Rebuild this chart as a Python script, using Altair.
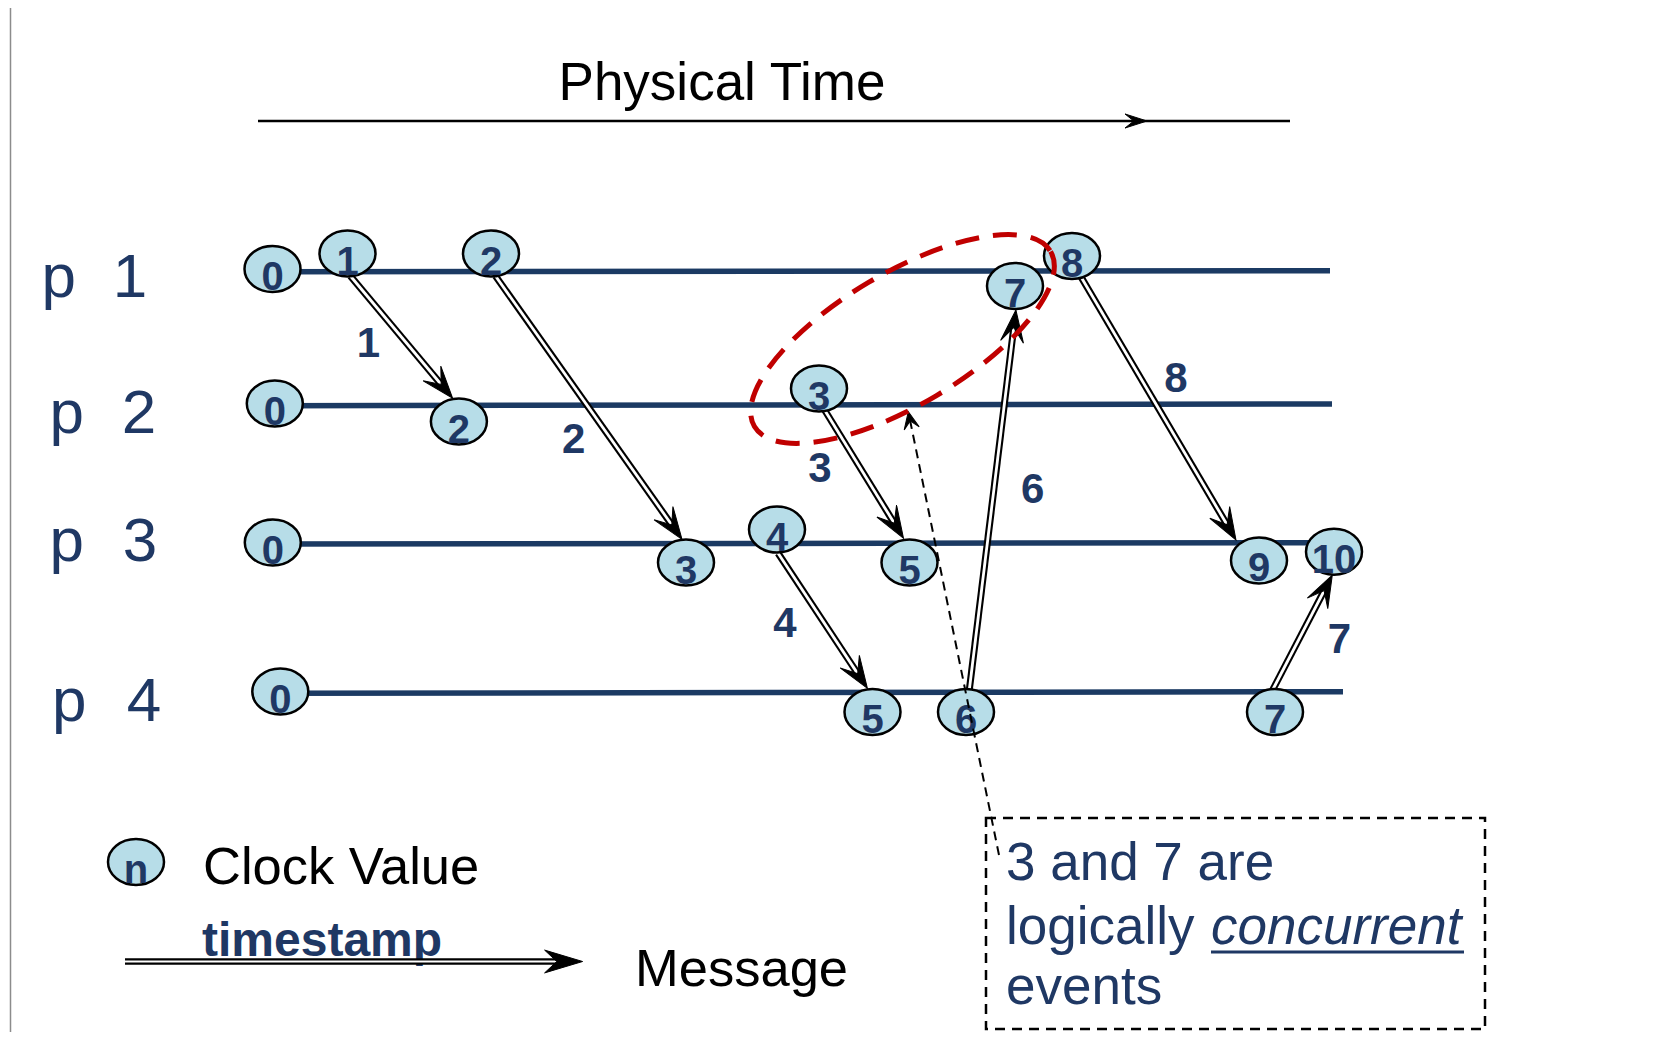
import math
import altair as alt
import pandas as pd

# ---------------- data (reference pixel coordinates) ----------------
NAVY = "#1f3864"
LINE = "#1b3a63"
FILL = "#b7dde8"
RED = "#c00000"

# process time lines
proc_p = ["p", "p", "p", "p"]
proc_num = ["1", "2", "3", "4"]
proc_p_x = [41.5, 49.5, 49.5, 52]
proc_num_x = [130, 139, 140, 144]
proc_label_y = [297, 433, 561, 721]
line_x1 = [273, 275, 273, 280]
line_x2 = [1330, 1332, 1310, 1343]
line_y1 = [271.7, 405.7, 544, 693.3]
line_y2 = [270.7, 404.0, 542.7, 691.7]

# events (clock values)
ev_value = ["0", "1", "2", "7", "8",
            "0", "2", "3",
            "0", "3", "4", "5", "9", "10",
            "0", "5", "6", "7"]
ev_x = [272.5, 347.5, 491.0, 1015.0, 1072.0,
        274.8, 458.9, 819.0,
        272.8, 686.0, 777.0, 909.5, 1259.0, 1334.0,
        280.3, 872.5, 966.0, 1275.0]
ev_y = [269.0, 253.5, 253.5, 286.0, 256.0,
        403.5, 421.5, 388.5,
        542.5, 562.5, 529.5, 562.5, 560.4, 551.8,
        691.5, 712.0, 712.0, 712.0]

# messages
msg_label = ["1", "2", "3", "4", "6", "8", "7"]
msg_x1 = [350.4, 495.5, 824.6, 778.1, 969.3, 1080.5, 1272.6]
msg_y1 = [276.0, 276.0, 410.0, 553.3, 690.0, 276.0, 690.0]
msg_x2 = [452.5, 682.0, 903.5, 867.4, 1015.9, 1236.0, 1332.3]
msg_y2 = [398.0, 539.3, 538.3, 688.3, 310.0, 540.0, 575.0]
msg_lab_x = [368.3, 573.7, 819.8, 784.8, 1032.6, 1176.0, 1339.3]
msg_lab_y = [341.7, 438.3, 466.7, 621.7, 488.3, 376.7, 638.3]

# ---------------- helpers ----------------
K = 0.5523


def ellipse_path(ry):
    return (f"M1,0C1,{K*ry:.4f} {K:.4f},{ry:.4f} 0,{ry:.4f}"
            f"C{-K:.4f},{ry:.4f} -1,{K*ry:.4f} -1,0"
            f"C-1,{-K*ry:.4f} {-K:.4f},{-ry:.4f} 0,{-ry:.4f}"
            f"C{K:.4f},{-ry:.4f} 1,{-K*ry:.4f} 1,0Z")


CIRCLE_SHAPE = ellipse_path(46 / 56)
ARROW_SHAPE = "M0,0L-1,-0.36L-0.55,0L-1,0.36Z"

xs = alt.Scale(domain=[8, 1650], nice=False, zero=False)
ys = alt.Scale(domain=[8, 1032], nice=False, zero=False, reverse=True)


def X(f="x"):
    return alt.X(f"{f}:Q", scale=xs, axis=None)


def Y(f="y"):
    return alt.Y(f"{f}:Q", scale=ys, axis=None)


def arrows(x1, y1, x2, y2, length, shaft_frac=0.55):
    rows = []
    for a, b, c, d in zip(x1, y1, x2, y2):
        dx, dy = c - a, d - b
        n = math.hypot(dx, dy)
        ux, uy = dx / n, dy / n
        ang = math.degrees(math.atan2(dy, dx)) % 360
        rows.append(dict(x=a, y=b, x2=c - ux * length * shaft_frac,
                         y2=d - uy * length * shaft_frac,
                         tx=c, ty=d, angle=ang, size=4 * length * length))
    return pd.DataFrame(rows)


def head(df, shape=ARROW_SHAPE):
    return (alt.Chart(df).mark_point(shape=shape, filled=True, fill="black",
                                     stroke="black", strokeWidth=1, opacity=1)
            .encode(x=X("tx"), y=Y("ty"), angle=alt.Angle("angle:Q", scale=None),
                    size=alt.Size("size:Q", scale=None)))


# ---------------- layers ----------------
layers = []

# left gray border line
border = pd.DataFrame({"x": [10.5], "y": [8], "y2": [1032]})
layers.append(alt.Chart(border).mark_rule(color="#8c8c8c", strokeWidth=1.5)
              .encode(x=X(), y=Y(), y2="y2:Q"))

# Physical Time
pt = pd.DataFrame({"x": [722], "y": [100], "t": ["Physical Time"]})
layers.append(alt.Chart(pt).mark_text(font="Liberation Sans", fontSize=53,
                                      align="center", baseline="alphabetic",
                                      color="black")
              .encode(x=X(), y=Y(), text="t:N"))
ptl = pd.DataFrame({"x": [258], "y": [121], "x2": [1290], "y2": [121]})
layers.append(alt.Chart(ptl).mark_rule(color="black", strokeWidth=2.5)
              .encode(x=X(), y=Y(), x2="x2:Q", y2="y2:Q"))
layers.append(head(arrows([1100], [121], [1147], [121], 22), "M0,0L-1,-0.32L-0.6,0L-1,0.32Z"))

# process lines
pl = pd.DataFrame({"x": line_x1, "y": line_y1, "x2": line_x2, "y2": line_y2})
layers.append(alt.Chart(pl).mark_rule(color=LINE, strokeWidth=5.5)
              .encode(x=X(), y=Y(), x2="x2:Q", y2="y2:Q"))

# process labels
plab_p = pd.DataFrame({"x": proc_p_x, "y": proc_label_y, "t": proc_p})
layers.append(alt.Chart(plab_p).mark_text(font="Liberation Sans", fontSize=62,
                                          align="left", baseline="alphabetic", color=NAVY)
              .encode(x=X(), y=Y(), text="t:N"))
plab_n = pd.DataFrame({"x": proc_num_x, "y": proc_label_y, "t": proc_num})
layers.append(alt.Chart(plab_n).mark_text(font="Liberation Sans", fontSize=62,
                                          align="center", baseline="alphabetic", color=NAVY)
              .encode(x=X(), y=Y(), text="t:N"))

# messages: double line shafts + arrowheads
md = arrows(msg_x1, msg_y1, msg_x2, msg_y2, 32)
layers.append(alt.Chart(md).mark_rule(color="black", strokeWidth=7, strokeCap="butt")
              .encode(x=X(), y=Y(), x2="x2:Q", y2="y2:Q"))
layers.append(alt.Chart(md).mark_rule(color="white", strokeWidth=2.8, strokeCap="butt")
              .encode(x=X(), y=Y(), x2="x2:Q", y2="y2:Q"))
layers.append(head(md))

# message labels
ml = pd.DataFrame({"x": msg_lab_x, "y": msg_lab_y, "t": msg_label})
layers.append(alt.Chart(ml).mark_text(font="Liberation Sans", fontWeight="bold", fontSize=42,
                                      align="center", baseline="alphabetic", color=NAVY, dy=15)
              .encode(x=X(), y=Y(), text="t:N"))

# events
ev = pd.DataFrame({"x": ev_x, "y": ev_y, "t": ev_value})
leg = pd.DataFrame({"x": [136], "y": [862], "t": ["n"]})
allev = pd.concat([ev, leg], ignore_index=True)
layers.append(alt.Chart(allev).mark_point(shape=CIRCLE_SHAPE, size=56 * 56, filled=True,
                                          fill=FILL, stroke="black", strokeWidth=2.5, opacity=1)
              .encode(x=X(), y=Y()))
layers.append(alt.Chart(allev).mark_text(font="Liberation Sans", fontWeight="bold", fontSize=40,
                                         align="center", baseline="alphabetic", color=NAVY, dy=21)
              .encode(x=X(), y=Y(), text="t:N"))

# dashed pointer line + arrowhead
dl = arrows([999], [855], [908.3], [411.7], 17, shaft_frac=0.3)
layers.append(alt.Chart(dl).mark_rule(color="black", strokeWidth=2, strokeDash=[9, 6])
              .encode(x=X(), y=Y(), x2="x2:Q", y2="y2:Q"))
layers.append(head(dl, "M0,0L-1,-0.45L-0.55,0L-1,0.45Z"))

# red dashed ellipse around 3 and 7
rel = pd.DataFrame({"x": [902.5], "y": [339]})
layers.append(alt.Chart(rel).mark_point(shape=ellipse_path(66 / 172), size=344 * 344,
                                        angle=329.4, filled=False, stroke=RED,
                                        strokeWidth=5, strokeDash=[24, 14], opacity=1)
              .encode(x=X(), y=Y()))

# legend
lt = pd.DataFrame({"x": [203, 635], "y": [884, 985.5], "t": ["Clock Value", "Message"]})
layers.append(alt.Chart(lt).mark_text(font="Liberation Sans", fontSize=52.5, align="left",
                                      baseline="alphabetic", color="black")
              .encode(x=X(), y=Y(), text="t:N"))
ts = pd.DataFrame({"x": [202], "y": [956], "t": ["timestamp"]})
layers.append(alt.Chart(ts).mark_text(font="Liberation Sans", fontWeight="bold", fontSize=48,
                                      align="left", baseline="alphabetic", color=NAVY)
              .encode(x=X(), y=Y(), text="t:N"))
la = arrows([125], [961.5], [582.6], [961.5], 38, shaft_frac=0.6)
layers.append(alt.Chart(la).mark_rule(color="black", strokeWidth=6.5, strokeCap="butt")
              .encode(x=X(), y=Y(), x2="x2:Q", y2="y2:Q"))
layers.append(alt.Chart(la).mark_rule(color="white", strokeWidth=2, strokeCap="butt")
              .encode(x=X(), y=Y(), x2="x2:Q", y2="y2:Q"))
layers.append(head(la, "M0,0L-1,-0.3L-0.68,0L-1,0.3Z"))

# annotation box
box = pd.DataFrame({"x": [986], "y": [818], "x2": [1485], "y2": [1029]})
layers.append(alt.Chart(box).mark_rect(fill=None, fillOpacity=0, stroke="black",
                                       strokeWidth=2.5, strokeDash=[10, 7])
              .encode(x=X(), y=Y(), x2="x2:Q", y2="y2:Q"))
bt = pd.DataFrame({"x": [1006, 1006, 1006], "y": [880, 943.5, 1004],
                   "t": ["3 and 7 are", "logically", "events"]})
layers.append(alt.Chart(bt).mark_text(font="Liberation Sans", fontSize=53, align="left",
                                      baseline="alphabetic", color=NAVY)
              .encode(x=X(), y=Y(), text="t:N"))
bi = pd.DataFrame({"x": [1211], "y": [943.5], "t": ["concurrent"]})
layers.append(alt.Chart(bi).mark_text(font="Liberation Sans", fontSize=53, fontStyle="italic",
                                      align="left", baseline="alphabetic", color=NAVY)
              .encode(x=X(), y=Y(), text="t:N"))
ul = pd.DataFrame({"x": [1211], "y": [952], "x2": [1464], "y2": [952]})
layers.append(alt.Chart(ul).mark_rule(color=NAVY, strokeWidth=3)
              .encode(x=X(), y=Y(), x2="x2:Q", y2="y2:Q"))

chart = alt.layer(*layers).properties(
    width=1642, height=1024, padding=0, autosize="none", background="white"
).configure_view(strokeWidth=0)

chart.save("out.html", embed_options={"renderer": "svg", "actions": False})
